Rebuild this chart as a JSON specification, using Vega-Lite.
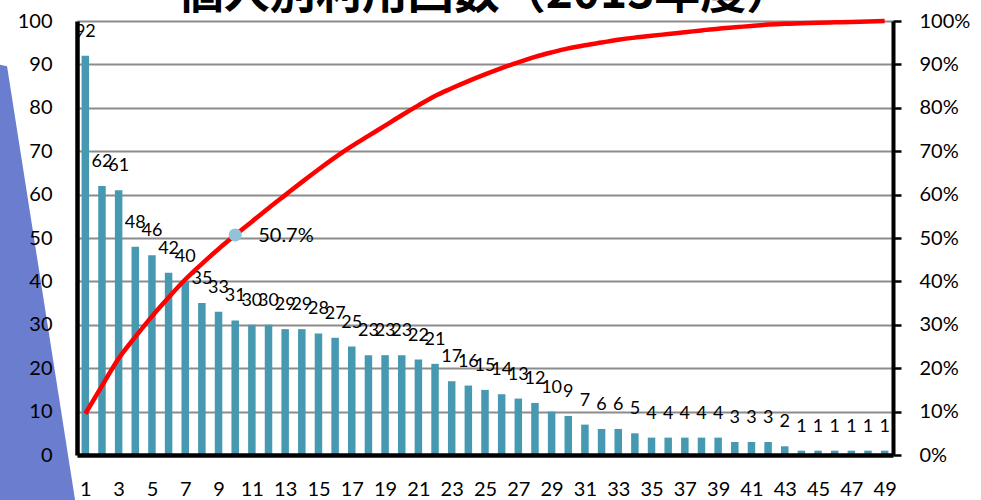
{
  "$schema": "https://vega.github.io/schema/vega-lite/v6.json",
  "width": 816,
  "height": 434,
  "autosize": "none",
  "padding": {"left": 77, "top": 21, "right": 88, "bottom": 45},
  "background": "white",
  "config": {"view": {"stroke": null}, "font": "Lato", "axis": {"labelOverlap": false}},
  "title": {"text": "個人別利用回数（2013年度）", "font": "Noto Sans CJK JP", "fontSize": 46, "fontWeight": "bold", "color": "black", "offset": -7, "anchor": "middle"},
  "datasets": {
    "bars": [
      {"n": 1, "count": 92, "cum": 0.0951},
      {"n": 2, "count": 62, "cum": 0.1593},
      {"n": 3, "count": 61, "cum": 0.2223},
      {"n": 4, "count": 48, "cum": 0.2720},
      {"n": 5, "count": 46, "cum": 0.3195},
      {"n": 6, "count": 42, "cum": 0.3630},
      {"n": 7, "count": 40, "cum": 0.4043},
      {"n": 8, "count": 35, "cum": 0.4405},
      {"n": 9, "count": 33, "cum": 0.4747},
      {"n": 10, "count": 31, "cum": 0.5067},
      {"n": 11, "count": 30, "cum": 0.5377},
      {"n": 12, "count": 30, "cum": 0.5688},
      {"n": 13, "count": 29, "cum": 0.5988},
      {"n": 14, "count": 29, "cum": 0.6287},
      {"n": 15, "count": 28, "cum": 0.6577},
      {"n": 16, "count": 27, "cum": 0.6856},
      {"n": 17, "count": 25, "cum": 0.7115},
      {"n": 18, "count": 23, "cum": 0.7353},
      {"n": 19, "count": 23, "cum": 0.7590},
      {"n": 20, "count": 23, "cum": 0.7828},
      {"n": 21, "count": 22, "cum": 0.8056},
      {"n": 22, "count": 21, "cum": 0.8273},
      {"n": 23, "count": 17, "cum": 0.8449},
      {"n": 24, "count": 16, "cum": 0.8614},
      {"n": 25, "count": 15, "cum": 0.8769},
      {"n": 26, "count": 14, "cum": 0.8914},
      {"n": 27, "count": 13, "cum": 0.9049},
      {"n": 28, "count": 12, "cum": 0.9173},
      {"n": 29, "count": 10, "cum": 0.9276},
      {"n": 30, "count": 9, "cum": 0.9369},
      {"n": 31, "count": 7, "cum": 0.9442},
      {"n": 32, "count": 6, "cum": 0.9504},
      {"n": 33, "count": 6, "cum": 0.9566},
      {"n": 34, "count": 5, "cum": 0.9617},
      {"n": 35, "count": 4, "cum": 0.9659},
      {"n": 36, "count": 4, "cum": 0.9700},
      {"n": 37, "count": 4, "cum": 0.9741},
      {"n": 38, "count": 4, "cum": 0.9783},
      {"n": 39, "count": 4, "cum": 0.9824},
      {"n": 40, "count": 3, "cum": 0.9855},
      {"n": 41, "count": 3, "cum": 0.9886},
      {"n": 42, "count": 3, "cum": 0.9917},
      {"n": 43, "count": 2, "cum": 0.9938},
      {"n": 44, "count": 1, "cum": 0.9948},
      {"n": 45, "count": 1, "cum": 0.9959},
      {"n": 46, "count": 1, "cum": 0.9969},
      {"n": 47, "count": 1, "cum": 0.9979},
      {"n": 48, "count": 1, "cum": 0.9990},
      {"n": 49, "count": 1, "cum": 1.0}
    ],
    "marker": [{"n": 10, "cum": 0.507, "label": "50.7%"}],
    "tri": [
      {"tx": -4.6, "ty": 90.3, "ty2": -12},
      {"tx": -3.7, "ty": 89.6, "ty2": -12},
      {"tx": 0.45, "ty": -12, "ty2": -12}
    ]
  },
  "layer": [
    {
      "layer": [
        {
          "data": {"name": "tri"},
          "mark": {"type": "area", "color": "#6a7dcf", "clip": false, "opacity": 1},
          "encoding": {
            "x": {"field": "tx", "type": "quantitative", "scale": {"domain": [0.5, 49.5], "nice": false, "zero": false, "padding": 0}},
            "y": {"field": "ty", "type": "quantitative", "scale": {"domain": [0, 100], "nice": false}},
            "y2": {"field": "ty2"}
          }
        },
        {
          "data": {"name": "bars"},
          "mark": {"type": "bar", "color": "#4799b1", "width": 7.5},
          "encoding": {
            "x": {"field": "n", "type": "quantitative", "scale": {"domain": [0.5, 49.5], "nice": false, "zero": false, "padding": 0},
              "axis": {"title": null, "values": [1,3,5,7,9,11,13,15,17,19,21,23,25,27,29,31,33,35,37,39,41,43,45,47,49], "tickCount": 60, "format": "d", "labelOverlap": false, "grid": false, "ticks": false, "domainColor": "black", "domainWidth": 4.5, "labelFontSize": 20, "labelColor": "black", "labelPadding": 24, "labelFont": "Lato", "zindex": 1}},
            "y": {"field": "count", "type": "quantitative", "scale": {"domain": [0, 100], "nice": false},
              "axis": {"orient": "left", "title": null, "values": [0,10,20,30,40,50,60,70,80,90,100], "tickCount": 30, "labelOverlap": false, "grid": false, "ticks": false, "domainColor": "black", "domainWidth": 4.5, "labelFontSize": 20, "labelColor": "black", "labelPadding": 25, "labelFont": "Lato", "zindex": 1}}
          }
        },
        {
          "data": {"name": "bars"},
          "mark": {"type": "text", "fontSize": 18, "font": "Lato", "color": "black", "baseline": "alphabetic", "dy": -19, "align": "center"},
          "encoding": {
            "x": {"field": "n", "type": "quantitative"},
            "y": {"field": "count", "type": "quantitative"},
            "text": {"field": "count", "type": "quantitative"}
          }
        }
      ]
    },
    {
      "layer": [
        {
          "data": {"name": "bars"},
          "mark": {"type": "line", "color": "#ff0000", "strokeWidth": 4.5, "interpolate": "monotone"},
          "encoding": {
            "x": {"field": "n", "type": "quantitative"},
            "y": {"field": "cum", "type": "quantitative", "scale": {"domain": [0, 1], "nice": false},
              "axis": {"orient": "right", "title": null, "values": [0,0.1,0.2,0.3,0.4,0.5,0.6,0.7,0.8,0.9,1], "tickCount": 30, "format": ".0%", "labelOverlap": false, "grid": true, "gridColor": "#8c8c8c", "gridWidth": 2, "ticks": true, "tickColor": "black", "tickWidth": 2.5, "tickSize": 8, "domainColor": "black", "domainWidth": 4, "labelFontSize": 20, "labelColor": "black", "labelPadding": 18, "labelFont": "Lato"}}
          }
        },
        {
          "data": {"name": "marker"},
          "mark": {"type": "point", "filled": true, "color": "#93c1d8", "size": 170, "opacity": 1},
          "encoding": {
            "x": {"field": "n", "type": "quantitative"},
            "y": {"field": "cum", "type": "quantitative"}
          }
        },
        {
          "data": {"name": "marker"},
          "mark": {"type": "text", "fontSize": 20, "font": "Lato", "color": "black", "align": "left", "baseline": "middle", "dx": 23, "dy": 1},
          "encoding": {
            "x": {"field": "n", "type": "quantitative"},
            "y": {"field": "cum", "type": "quantitative"},
            "text": {"field": "label", "type": "nominal"}
          }
        }
      ]
    }
  ],
  "resolve": {"scale": {"y": "independent"}}
}
